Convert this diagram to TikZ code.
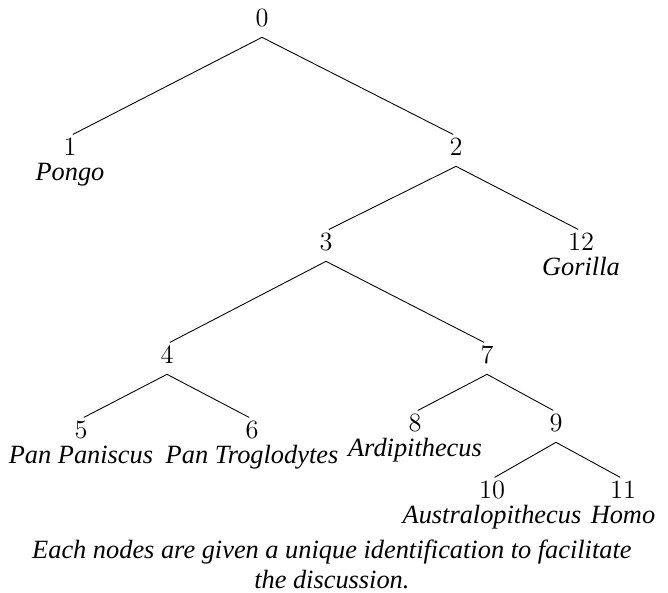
\documentclass[tikz,border=0pt]{standalone}
\usepackage{fontspec}
\usepackage{tikz}
\usetikzlibrary{positioning}
\newfontfamily\timesfont{Liberation Serif}

\begin{document}
\begin{tikzpicture}[line cap=round,line join=round, x=1cm,y=1cm,
  num/.style={inner sep=1pt, text height=7.7pt, text depth=0pt, font=\fontsize{12}{14}\selectfont},
  genus/.style={inner sep=0.5pt, text height=8.3pt, text depth=2.6pt, font=\timesfont\itshape\fontsize{12}{14}\selectfont},
  note/.style={align=center, inner sep=0pt, font=\timesfont\itshape\fontsize{12}{13.4}\selectfont},
  branch/.style={shorten >=1.5pt}]
\useasboundingbox (0,0) rectangle (10.688,9.488);
\node[num] (n0) at (4.192,9.2) {0};
\node[num] (n1) at (1.12,7.136) {1};
\node[num] (n2) at (7.296,7.136) {2};
\node[num] (n3) at (5.216,5.616) {3};
\node[num] (n12) at (9.296,5.616) {12};
\node[num] (n4) at (2.672,3.808) {4};
\node[num] (n7) at (7.792,3.808) {7};
\node[num] (n5) at (1.296,2.608) {5};
\node[num] (n6) at (4.032,2.608) {6};
\node[num] (n8) at (6.64,2.72) {8};
\node[num] (n9) at (8.896,2.72) {9};
\node[num] (n10) at (7.872,1.648) {10};
\node[num] (n11) at (9.968,1.648) {11};
\node[genus, below=1pt of n1] (pongo) {Pongo};
\node[genus, below=1pt of n12] (gorilla) {Gorilla};
\node[genus, below=1pt of n5] (paniscus) {Pan Paniscus};
\node[genus, below=1pt of n6] (troglodytes) {Pan Troglodytes};
\node[genus, below=1pt of n8] (ardi) {Ardipithecus};
\node[genus, below=1pt of n10] (australo) {Australopithecus};
\node[genus, below=1pt of n11] (homo) {Homo};
\draw [branch] ([yshift=-3.75pt]n0.south) -- (n1.north);
\draw [branch] ([yshift=-3.75pt]n0.south) -- (n2.north);
\draw [branch] ([yshift=-3.75pt]n2.south) -- (n3.north);
\draw [branch] ([yshift=-3.75pt]n2.south) -- (n12.north);
\draw [branch] ([yshift=-3.75pt]n3.south) -- (n4.north);
\draw [branch] ([yshift=-3.75pt]n3.south) -- (n7.north);
\draw [branch] ([yshift=-3.75pt]n4.south) -- (n5.north);
\draw [branch] ([yshift=-3.75pt]n4.south) -- (n6.north);
\draw [branch] ([yshift=-3.75pt]n7.south) -- (n8.north);
\draw [branch] ([yshift=-3.75pt]n7.south) -- (n9.north);
\draw [branch] ([yshift=-3.75pt]n9.south) -- (n10.north);
\draw [branch] ([yshift=-3.75pt]n9.south) -- (n11.north);
\node[note] (caption) at (5.31,0.46) {Each nodes are given a unique identification to facilitate\\ the discussion.};
\end{tikzpicture}
\end{document}
